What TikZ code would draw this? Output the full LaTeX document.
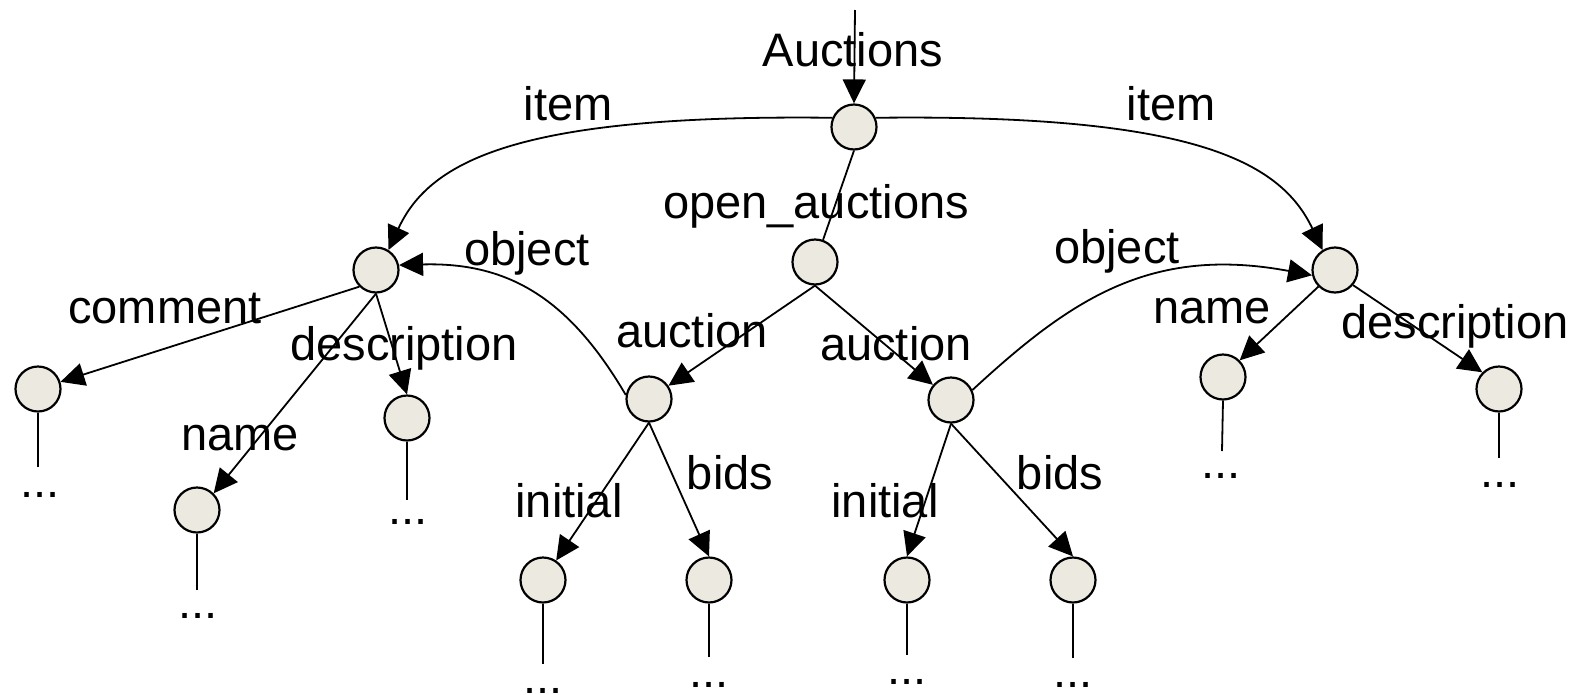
\documentclass[tikz,border=0pt]{standalone}
\usepackage{fontspec}
\setmainfont{Liberation Sans}
\usetikzlibrary{arrows.meta}
\definecolor{nodefill}{RGB}{236,234,224}
\tikzset{
  tnode/.style={circle,draw=black,line width=2.2pt,fill=nodefill,minimum size=45pt,inner sep=0pt},
  lbl/.style={anchor=base,inner sep=0pt,font=\fontsize{47}{56}\selectfont},
  edge/.style={line width=1.8pt,-{Triangle[length=24pt,width=23pt]}},
  plain/.style={line width=1.8pt},
}
\begin{document}
\begin{tikzpicture}[x=1pt,y=-1pt]
\useasboundingbox[fill=white] (0,0) rectangle (1575,694);
% nodes
\node[tnode] (root) at (854,127) {};
\node[tnode] (L) at (376,270) {};
\node[tnode] (O) at (815,262) {};
\node[tnode] (R) at (1335,270) {};
\node[tnode] (comment) at (38,389) {};
\node[tnode] (nameL) at (197,510) {};
\node[tnode] (descL) at (407,418) {};
\node[tnode] (a1) at (649,399) {};
\node[tnode] (a2) at (951,400) {};
\node[tnode] (nameR) at (1223,377) {};
\node[tnode] (descR) at (1499,389) {};
\node[tnode] (i1) at (543,580) {};
\node[tnode] (b1) at (709,580) {};
\node[tnode] (i2) at (907,580) {};
\node[tnode] (b2) at (1073,580) {};
\coordinate (top) at (855,10);
% dots
\node[lbl] (dc) at (40,497) {...};
\node[lbl] (dnl) at (198,618) {...};
\node[lbl] (ddl) at (408,524) {...};
\node[lbl] (dnr) at (1221,478) {...};
\node[lbl] (ddr) at (1500,487) {...};
\node[lbl] (di1) at (543,693) {...};
\node[lbl] (db1) at (709,687) {...};
\node[lbl] (di2) at (907,684) {...};
\node[lbl] (db2) at (1073,687) {...};
% leaf lines
\coordinate (ec) at (38,467);
\coordinate (enl) at (197,590);
\coordinate (edl) at (407,500);
\coordinate (enr) at (1222,451);
\coordinate (edr) at (1499,458);
\coordinate (ei1) at (543,664);
\coordinate (eb1) at (709,657);
\coordinate (ei2) at (907,655);
\coordinate (eb2) at (1073,658);
\draw[plain] (comment.south) -- (ec);
\draw[plain] (nameL.south) -- (enl);
\draw[plain] (descL.south) -- (edl);
\draw[plain] (nameR.south) -- (enr);
\draw[plain] (descR.south) -- (edr);
\draw[plain] (i1.south) -- (ei1);
\draw[plain] (b1.south) -- (eb1);
\draw[plain] (i2.south) -- (ei2);
\draw[plain] (b2.south) -- (eb2);
% edges
\draw[edge] (top) -- (root.north);
\draw[edge] (root.157) .. controls (520,114) and (430,160) .. (L.58);
\draw[edge] (root.23) .. controls (1190,114) and (1280,160) .. (R.122);
\draw[plain] (root.south) -- (O.70);
\draw[edge] (O.south) -- (a1);
\draw[edge] (O.south) -- (a2);
\draw[edge] (a1.170) .. controls (570,300) and (510,262) .. (L.12);
\draw[edge] (a2.25) .. controls (1070,300) and (1150,245) .. (R.193);
\draw[edge] (L.225) -- (comment);
\draw[edge] (L.south) -- (nameL.45);
\draw[edge] (L.south) -- (descL.north);
\draw[edge] (a1.south) -- (i1);
\draw[edge] (a1.south) -- (b1.north);
\draw[edge] (a2.south) -- (i2.north);
\draw[edge] (a2.south) -- (b2.north);
\draw[edge] (R.225) -- (nameR.45);
\draw[edge] (R.-40) -- (descR.135);
% labels
\node[lbl] (tAuctions) at (853,66) {Auctions};
\node[lbl] (tItemL) at (568,120) {item};
\node[lbl] (tItemR) at (1171,120) {item};
\node[lbl] (tOpen) at (816,218) {open\_auctions};
\node[lbl] (tObjL) at (527,265) {object};
\node[lbl] (tObjR) at (1117,263) {object};
\node[lbl] (tComment) at (165,323) {comment};
\node[lbl] (tDescL) at (404,360) {description};
\node[lbl] (tNameL) at (240,450) {name};
\node[lbl] (tAucL) at (692,347) {auction};
\node[lbl] (tAucR) at (896,360) {auction};
\node[lbl] (tNameR) at (1212,323) {name};
\node[lbl] (tDescR) at (1455,338) {description};
\node[lbl] (tInitL) at (569,517) {initial};
\node[lbl] (tBidsL) at (730,489) {bids};
\node[lbl] (tInitR) at (885,517) {initial};
\node[lbl] (tBidsR) at (1060,489) {bids};
\end{tikzpicture}
\end{document}
